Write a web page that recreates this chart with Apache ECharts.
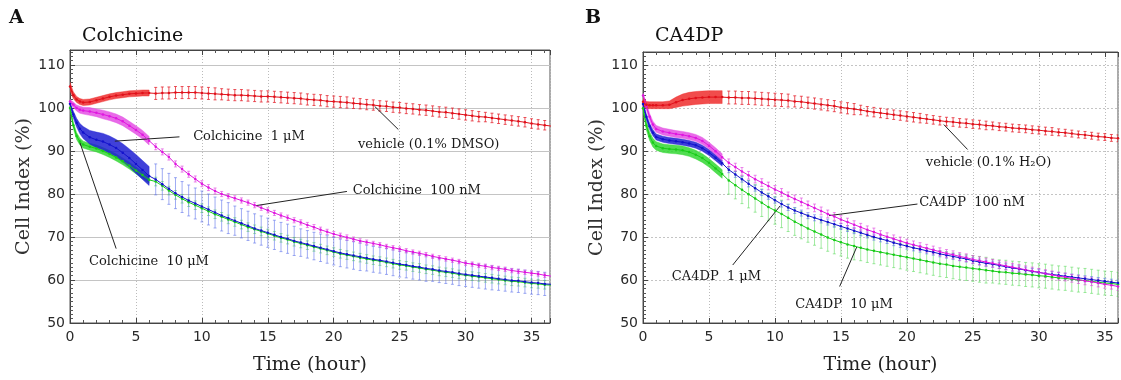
<!DOCTYPE html>
<html><head><meta charset="utf-8">
<script src="https://cdn.jsdelivr.net/npm/echarts@6/dist/echarts.min.js"></script>
<style>html,body{margin:0;padding:0;background:#fff}#c{width:1121px;height:380px}</style>
</head><body><div id="c"></div>
<script>
// ---------------- data ----------------
const time = [0,0.25,0.5,0.75,1,1.5,2,2.5,3,3.5,4,4.5,5,5.5,6,
 6.5,7,7.5,8,8.5,9,9.5,10,10.5,11,11.5,12,12.5,13,13.5,14,14.5,15,15.5,16,16.5,17,17.5,18,18.5,19,19.5,20,
 20.5,21,21.5,22,22.5,23,23.5,24,24.5,25,25.5,26,26.5,27,27.5,28,28.5,29,29.5,30,30.5,31,31.5,32,32.5,33,33.5,34,34.5,35,35.5,36,36.5];
const bandEnd = 6; // hours with continuous (dense) readings

// Panel A : Colchicine
const colVehicleMean = [105.0,103.0,102.0,101.5,101.3,101.4,101.8,102.2,102.6,102.9,103.1,103.3,103.4,103.5,103.5,
 103.4,103.5,103.5,103.6,103.6,103.6,103.6,103.5,103.4,103.3,103.2,103.1,103.0,103.0,102.9,102.8,102.7,102.7,102.6,102.5,
 102.4,102.3,102.2,102.0,101.9,101.8,101.6,101.5,101.4,101.3,101.1,101.0,100.8,100.7,100.5,100.4,100.2,100.1,99.9,99.8,
 99.6,99.5,99.3,99.1,99.0,98.8,98.6,98.4,98.2,98.0,97.9,97.7,97.5,97.3,97.1,96.9,96.7,96.4,96.2,96.0,95.8];
const colVehicleErr = [1.0,0.8,0.7,0.7,0.7,0.7,0.7,0.7,0.7,0.7,0.7,0.7,0.7,0.7,0.7,
 1.4,1.4,1.4,1.4,1.4,1.4,1.4,1.4,1.4,1.4,1.3,1.3,1.3,1.3,1.3,1.3,1.3,1.3,1.3,1.3,1.3,1.3,1.3,1.3,1.3,1.3,1.3,1.3,1.3,1.3,
 1.2,1.2,1.2,1.2,1.2,1.2,1.2,1.2,1.2,1.2,1.2,1.2,1.2,1.2,1.2,1.2,1.2,1.2,1.2,1.2,1.1,1.1,1.1,1.1,1.1,1.1,1.1,1.1,1.1,1.1,1.1];
const col100nMMean = [101.5,100.8,100.0,99.6,99.4,99.2,98.9,98.5,98.1,97.6,96.9,95.9,94.9,93.8,92.4,
 91.0,89.8,88.6,87.0,85.8,84.6,83.5,82.4,81.5,80.7,80.0,79.5,79.0,78.5,78.0,77.4,76.8,76.2,75.6,75.0,
 74.5,73.9,73.4,72.8,72.3,71.7,71.2,70.7,70.3,69.9,69.5,69.1,68.8,68.5,68.2,67.8,67.5,67.2,66.8,66.5,
 66.2,65.9,65.5,65.2,64.9,64.6,64.3,63.9,63.7,63.4,63.2,62.9,62.7,62.5,62.2,62.0,61.8,61.6,61.4,61.1,60.9];
const col100nMErr = [0.5,0.6,0.7,0.8,0.8,0.9,0.9,1.0,1.0,1.0,1.0,1.0,1.0,1.0,1.0,
 0.7,0.7,0.7,0.7,0.7,0.7,0.7,0.7,0.7,0.7,0.6,0.6,0.6,0.6,0.6,0.6,0.6,0.6,0.6,0.6,0.6,0.6,0.6,0.6,0.6,0.6,0.6,0.6,0.6,0.6,
 0.5,0.5,0.5,0.5,0.5,0.5,0.5,0.5,0.5,0.5,0.5,0.5,0.5,0.5,0.5,0.5,0.5,0.5,0.5,0.5,0.5,0.5,0.5,0.5,0.5,0.5,0.5,0.5,0.5,0.5,0.5];
const col1uMMean = [101.0,98.5,96.6,95.2,94.3,93.2,92.6,92.2,91.5,90.7,89.6,88.4,87.0,85.6,84.2,
 83.4,82.3,81.2,80.2,79.3,78.5,77.8,77.1,76.4,75.7,75.0,74.4,73.8,73.2,72.6,72.0,71.5,71.0,70.5,70.0,
 69.6,69.1,68.7,68.3,67.9,67.5,67.1,66.7,66.3,66.0,65.7,65.4,65.1,64.8,64.6,64.3,64.0,63.7,63.5,63.2,
 63.0,62.7,62.5,62.2,62.0,61.8,61.5,61.3,61.1,60.9,60.7,60.5,60.3,60.1,59.9,59.8,59.6,59.4,59.3,59.1,59.0];
const col1uMErr = [0.5,0.8,1.0,1.2,1.4,1.6,1.8,1.9,2.0,2.0,2.1,2.1,2.2,2.2,2.2,
 3.6,3.6,3.6,3.6,3.6,3.6,3.6,3.6,3.6,3.6,3.6,3.6,3.4,3.4,3.4,3.4,3.4,3.4,3.4,3.4,3.4,3.4,
 3.2,3.2,3.2,3.2,3.2,3.2,3.2,3.2,3.2,3.2,3.0,3.0,3.0,3.0,3.0,3.0,3.0,3.0,3.0,3.0,
 2.8,2.8,2.8,2.8,2.8,2.8,2.8,2.8,2.8,2.8,2.7,2.7,2.7,2.7,2.7,2.7,2.7,2.7,2.7];
const col10uMMean = [100.0,96.0,93.5,92.2,91.5,91.0,90.6,90.0,89.3,88.5,87.6,86.6,85.5,84.4,83.3,
 82.9,81.9,80.8,79.8,78.9,78.1,77.4,76.7,76.0,75.3,74.7,74.1,73.5,72.9,72.3,71.8,71.3,70.8,70.3,69.8,
 69.4,68.9,68.5,68.1,67.7,67.3,66.9,66.5,66.1,65.8,65.5,65.2,64.9,64.6,64.4,64.1,63.8,63.5,63.3,63.0,
 62.8,62.5,62.3,62.0,61.8,61.6,61.3,61.1,60.9,60.7,60.5,60.3,60.1,59.9,59.7,59.6,59.4,59.2,59.1,58.9,58.8];
const col10uMErr = [0.5,0.7,0.8,0.8,0.8,0.8,0.8,0.8,0.8,0.8,0.8,0.8,0.8,0.8,0.8,
 1.0,1.0,1.0,1.0,1.0,1.0,1.0,1.0,1.0,1.0,1.0,1.0,1.0,1.0,1.0,1.0,1.0,1.0,1.0,1.0,1.0,1.0,1.0,1.0,1.0,1.0,1.0,1.0,1.0,1.0,
 1.0,1.0,1.0,1.0,1.0,1.0,1.0,1.0,1.0,1.0,1.0,1.0,1.0,1.0,1.0,1.0,1.0,1.0,1.0,1.0,1.0,1.0,1.0,1.0,1.0,1.0,1.0,1.0,1.0,1.0,1.0];

// Panel B : CA4DP
const caVehicleMean = [101.5,100.8,100.7,100.7,100.7,100.7,100.8,101.4,101.9,102.2,102.4,102.5,102.6,102.6,102.6,
 102.5,102.5,102.4,102.4,102.3,102.2,102.1,102.0,101.9,101.8,101.6,101.5,101.3,101.1,100.9,100.7,100.5,100.2,100.0,99.8,
 99.6,99.3,99.1,98.9,98.7,98.5,98.3,98.1,97.9,97.7,97.5,97.3,97.1,96.9,96.8,96.6,96.5,96.3,96.2,96.0,
 95.9,95.7,95.6,95.4,95.3,95.2,95.0,94.9,94.7,94.6,94.4,94.3,94.1,93.9,93.8,93.6,93.4,93.3,93.1,93.0,92.8];
const caVehicleErr = [1.0,0.8,0.8,0.8,0.8,0.8,0.9,1.2,1.4,1.5,1.5,1.5,1.5,1.5,1.5,
 1.5,1.5,1.5,1.5,1.5,1.5,1.5,1.5,1.5,1.5,1.3,1.3,1.3,1.3,1.3,1.3,1.3,1.3,1.3,1.3,1.1,1.1,1.1,1.1,1.1,1.1,1.1,1.1,1.1,1.1,
 1.0,1.0,1.0,1.0,1.0,1.0,1.0,1.0,1.0,1.0,0.9,0.9,0.9,0.9,0.9,0.9,0.9,0.9,0.9,0.9,0.8,0.8,0.8,0.8,0.8,0.8,0.8,0.8,0.8,0.8,0.8];
const ca100nMMean = [103.0,100.5,98.0,96.2,95.2,94.6,94.3,94.0,93.8,93.5,93.1,92.4,91.3,90.0,88.6,
 87.3,86.3,85.3,84.4,83.5,82.7,81.9,81.1,80.4,79.6,78.9,78.2,77.5,76.8,76.1,75.4,74.8,74.1,73.5,72.9,
 72.3,71.7,71.2,70.6,70.1,69.6,69.1,68.6,68.2,67.8,67.4,67.0,66.6,66.2,65.9,65.5,65.2,64.8,64.5,64.2,
 63.9,63.6,63.3,63.0,62.7,62.4,62.1,61.8,61.5,61.2,60.9,60.7,60.4,60.1,59.8,59.6,59.3,59.0,58.8,58.5,58.3];
const ca100nMErr = [0.6,0.8,0.8,0.8,0.8,0.8,0.8,0.8,0.8,0.8,0.8,0.8,0.8,0.8,0.8,
 0.9,0.9,0.9,0.9,0.9,0.9,0.9,0.9,0.9,0.9,0.9,0.9,0.9,0.9,0.9,0.9,0.9,0.9,0.9,0.9,0.9,0.9,0.9,0.9,0.9,0.9,0.9,0.9,0.9,0.9,
 0.9,0.9,0.9,0.9,0.9,0.9,0.9,0.9,0.9,0.9,0.9,0.9,0.9,0.9,0.9,0.9,0.9,0.9,0.9,0.9,0.9,0.9,0.9,0.9,0.9,0.9,0.9,0.9,0.9,0.9,0.9];
const ca1uMMean = [101.0,98.0,95.8,94.3,93.3,92.8,92.5,92.3,92.1,91.8,91.4,90.7,89.7,88.5,87.2,
 85.7,84.6,83.5,82.4,81.4,80.4,79.5,78.6,77.7,76.9,76.2,75.6,75.0,74.5,74.0,73.5,73.0,72.5,72.0,71.5,
 71.0,70.5,70.0,69.6,69.2,68.7,68.3,67.9,67.5,67.2,66.8,66.5,66.1,65.8,65.5,65.2,64.9,64.5,64.2,63.9,
 63.7,63.4,63.1,62.8,62.6,62.3,62.0,61.8,61.5,61.3,61.1,60.9,60.7,60.5,60.3,60.1,59.9,59.7,59.5,59.3,59.1];
const ca1uMErr = [0.5,0.7,0.7,0.7,0.7,0.7,0.7,0.7,0.7,0.7,0.7,0.7,0.7,0.7,0.7,
 0.7,0.7,0.7,0.7,0.7,0.7,0.7,0.7,0.7,0.7,0.7,0.7,0.7,0.7,0.7,0.7,0.7,0.7,0.7,0.7,0.7,0.7,0.7,0.7,0.7,0.7,0.7,0.7,0.7,0.7,
 0.7,0.7,0.7,0.7,0.7,0.7,0.7,0.7,0.7,0.7,0.7,0.7,0.7,0.7,0.7,0.7,0.7,0.7,0.7,0.7,0.7,0.7,0.7,0.7,0.7,0.7,0.7,0.7,0.7,0.7,0.7];
const ca10uMMean = [100.0,96.0,93.5,92.0,91.2,90.7,90.5,90.4,90.2,89.8,89.2,88.4,87.3,86.0,84.7,
 83.2,82.1,81.0,80.0,79.0,78.0,77.0,76.2,75.4,74.5,73.6,72.8,72.0,71.3,70.6,69.9,69.3,68.8,68.3,67.9,
 67.5,67.1,66.8,66.5,66.2,65.9,65.6,65.3,65.0,64.7,64.4,64.1,63.8,63.6,63.3,63.1,62.9,62.7,62.5,62.3,
 62.1,61.9,61.8,61.6,61.5,61.3,61.2,61.0,60.9,60.7,60.5,60.4,60.2,60.0,59.9,59.7,59.5,59.3,59.2,59.0,58.8];
const ca10uMErr = [0.6,1.0,1.0,1.0,1.0,1.0,1.0,1.0,1.0,1.0,1.0,1.0,1.0,1.0,1.0,
 3.2,3.2,3.2,3.2,3.2,3.2,3.2,3.2,3.2,3.2,3.2,3.2,3.2,3.2,3.2,3.2,3.2,3.2,3.2,3.2,
 3.0,3.0,3.0,3.0,3.0,3.0,3.0,3.0,3.0,3.0,3.0,3.0,3.0,3.0,3.0,3.0,3.0,3.0,3.0,3.0,
 2.8,2.8,2.8,2.8,2.8,2.8,2.8,2.8,2.8,2.8,2.8,2.8,2.8,2.8,2.8,2.8,2.8,2.8,2.8,2.8,2.8];

const xTicks = [0,5,10,15,20,25,30,35];
const yTicks = [50,60,70,80,90,100,110];

// ---------------- styles ----------------
const SERIF = 'DejaVu Serif';
const SANS = 'DejaVu Sans';
const C = {
  red:    {line:'#e0101a', bar:'rgba(228,30,40,0.75)',  band:'rgba(238,45,45,0.85)'},
  mag:    {line:'#e016e0', bar:'rgba(222,60,222,0.6)', band:'rgba(228,80,228,0.85)'},
  blue:   {line:'#1212cc', bar:'rgba(95,115,235,0.6)',  band:'rgba(30,30,210,0.85)'},
  green:  {line:'#18cc18', bar:'rgba(70,215,70,0.5)',  band:'rgba(50,215,50,0.85)'}
};

function bandSeries(gi, mean, err, color) {
  return {
    type:'custom', xAxisIndex:gi*2, yAxisIndex:gi, clip:true, silent:true, z:2,
    data:[[time[0], mean[0]]],
    renderItem:(params, api) => {
      const up = [], lo = [];
      for (let i = 0; i < time.length && time[i] <= bandEnd; i++) {
        up.push(api.coord([time[i], mean[i] + err[i]]));
        lo.unshift(api.coord([time[i], mean[i] - err[i]]));
      }
      return {type:'polygon', shape:{points:up.concat(lo)}, style:{fill:color, stroke:color, lineWidth:0.5}};
    }
  };
}
function barSeries(gi, mean, err, color) {
  const d = [];
  for (let i = 0; i < time.length; i++) if (time[i] > bandEnd) d.push([time[i], mean[i], err[i]]);
  return {
    type:'custom', xAxisIndex:gi*2, yAxisIndex:gi, clip:true, silent:true, z:3,
    encode:{x:0, y:1}, data:d,
    renderItem:(params, api) => {
      const t = api.value(0), m = api.value(1), e = api.value(2);
      const a = api.coord([t, m + e]), b = api.coord([t, m - e]);
      const st = {stroke:color, lineWidth:1};
      return {type:'group', children:[
        {type:'line', shape:{x1:a[0], y1:a[1], x2:b[0], y2:b[1]}, style:st},
        {type:'line', shape:{x1:a[0]-1.5, y1:a[1], x2:a[0]+1.5, y2:a[1]}, style:st},
        {type:'line', shape:{x1:b[0]-1.5, y1:b[1], x2:b[0]+1.5, y2:b[1]}, style:st}
      ]};
    }
  };
}
function annot(lineFrom, lineTo, textAt, text) {
  return {
    markLine:{silent:true, animation:false, symbol:['none','none'], label:{show:false},
      lineStyle:{color:'#222', width:1, type:'solid'},
      data:[[{coord:lineFrom},{coord:lineTo}]]},
    markPoint:{silent:true, animation:false, symbol:'circle', symbolSize:1, itemStyle:{color:'rgba(0,0,0,0)'},
      label:{show:true, position:'right', distance:0, formatter:text, color:'#1a1a1a', fontFamily:SERIF, fontSize:13},
      data:[{coord:textAt}]}
  };
}
function lineSeries(gi, mean, color, ann) {
  const s = {
    type:'line', xAxisIndex:gi*2, yAxisIndex:gi, z:5,
    data: time.map((t,i)=>[t, mean[i]]),
    symbol:'circle', symbolSize:2.5, showAllSymbol:true,
    itemStyle:{color:color}, lineStyle:{color:color, width:1}, animation:false, clip:true
  };
  if (ann) Object.assign(s, ann);
  return s;
}

const gridsPx = [
  {left:70, top:50, width:480, height:275, xmax:36.4, ymax:113.5, hDash:'solid'},
  {left:643, top:52, width:480, height:273, xmax:36, ymax:113.1, hDash:[2,2]}
];

const xAxes = [], yAxes = [];
gridsPx.forEach((g, gi) => {
  const tickFmt = (arr) => (v) => (arr.indexOf(Math.round(v*1000)/1000) >= 0 ? String(v) : '');
  const common = {gridIndex:gi, type:'value', min:0, max:g.xmax, interval:5,
    axisLine:{show:true, onZero:false, lineStyle:{color:'#444', width:1}},
    axisTick:{show:true, inside:true, length:5, lineStyle:{color:'#444'}},
    minorTick:{show:true, splitNumber:5, length:3, lineStyle:{color:'#555'}}};
  xAxes.push(Object.assign({}, common, {position:'bottom',
    axisLabel:{show:true, formatter:tickFmt(xTicks), color:'#2a2a2a', fontFamily:SANS, fontSize:14, margin:7},
    splitLine:{show:true, lineStyle:{color:'#bbb', type:[1,2]}},
    name:'Time (hour)', nameLocation:'middle', nameGap:33,
    nameTextStyle:{fontFamily:SERIF, fontSize:19, color:'#222'}}));
  xAxes.push(Object.assign({}, common, {position:'top', axisLabel:{show:false}, splitLine:{show:false}}));
  yAxes.push({gridIndex:gi, type:'value', min:50, max:g.ymax, interval:10, position:'left',
    axisLine:{show:true, onZero:false, lineStyle:{color:'#444', width:1}},
    axisTick:{show:true, inside:true, length:5, lineStyle:{color:'#444'}},
    minorTick:{show:true, splitNumber:10, length:3, lineStyle:{color:'#555'}},
    axisLabel:{show:true, formatter:tickFmt(yTicks), color:'#2a2a2a', fontFamily:SANS, fontSize:14, margin:5},
    splitLine:{show:true, lineStyle:{color:'#c4c4c4', type:g.hDash}},
    name:'Cell Index (%)', nameLocation:'middle', nameGap:36, nameRotate:90,
    nameTextStyle:{fontFamily:SERIF, fontSize:19, color:'#333'}});
});

const series = [
  // Panel A
  bandSeries(0, col10uMMean, col10uMErr, C.green.band),
  bandSeries(0, col1uMMean, col1uMErr, C.blue.band),
  bandSeries(0, col100nMMean, col100nMErr, C.mag.band),
  bandSeries(0, colVehicleMean, colVehicleErr, C.red.band),
  barSeries(0, col10uMMean, col10uMErr, C.green.bar),
  barSeries(0, col1uMMean, col1uMErr, C.blue.bar),
  barSeries(0, col100nMMean, col100nMErr, C.mag.bar),
  barSeries(0, colVehicleMean, colVehicleErr, C.red.bar),
  lineSeries(0, col10uMMean, C.green.line, annot([0.75,92.0],[3.5,67.3],[1.4,64.2],'Colchicine  10 μM')),
  lineSeries(0, col1uMMean, C.blue.line, annot([3.4,92.3],[8.3,93.3],[9.3,93.4],'Colchicine  1 μM')),
  lineSeries(0, col100nMMean, C.mag.line, annot([14.1,77.3],[21.0,80.6],[21.4,80.8],'Colchicine  100 nM')),
  lineSeries(0, colVehicleMean, C.red.line, annot([23.1,100.4],[24.9,95.0],[21.8,91.6],'vehicle (0.1% DMSO)')),
  // Panel B
  bandSeries(1, ca10uMMean, ca10uMErr, C.green.band),
  bandSeries(1, ca1uMMean, ca1uMErr, C.blue.band),
  bandSeries(1, ca100nMMean, ca100nMErr, C.mag.band),
  bandSeries(1, caVehicleMean, caVehicleErr, C.red.band),
  barSeries(1, ca10uMMean, ca10uMErr, C.green.bar),
  barSeries(1, ca1uMMean, ca1uMErr, C.blue.bar),
  barSeries(1, ca100nMMean, ca100nMErr, C.mag.bar),
  barSeries(1, caVehicleMean, caVehicleErr, C.red.bar),
  lineSeries(1, ca10uMMean, C.green.line, annot([16.2,67.7],[14.9,58.5],[11.5,54.2],'CA4DP  10 μM')),
  lineSeries(1, ca1uMMean, C.blue.line, annot([10.4,77.3],[6.8,63.5],[2.15,60.8],'CA4DP  1 μM')),
  lineSeries(1, ca100nMMean, C.mag.line, annot([14.1,75.0],[20.8,77.7],[20.9,78.1],'CA4DP  100 nM')),
  lineSeries(1, caVehicleMean, C.red.line, annot([22.8,96.2],[24.6,90.4],[21.4,87.3],'vehicle (0.1% H₂O)'))
];

const chart = echarts.init(document.getElementById('c'), null, {renderer:'canvas'});
chart.setOption({
  animation:false,
  backgroundColor:'#fff',
  title:[
    {text:'A', left:9, top:9, padding:0, textStyle:{fontFamily:SERIF, fontWeight:'bold', fontSize:19, color:'#111'}},
    {text:'Colchicine', left:82, top:27, padding:0, textStyle:{fontFamily:SERIF, fontWeight:'normal', fontSize:19, color:'#111'}},
    {text:'B', left:585, top:9, padding:0, textStyle:{fontFamily:SERIF, fontWeight:'bold', fontSize:19, color:'#111'}},
    {text:'CA4DP', left:655, top:27, padding:0, textStyle:{fontFamily:SERIF, fontWeight:'normal', fontSize:19, color:'#111'}}
  ],
  grid: gridsPx.map(g => ({left:g.left, top:g.top, width:g.width, height:g.height, show:true,
    borderColor:'#555', borderWidth:1, backgroundColor:'#fff', containLabel:false})),
  xAxis: xAxes,
  yAxis: yAxes,
  series: series
});
</script>
</body></html>
